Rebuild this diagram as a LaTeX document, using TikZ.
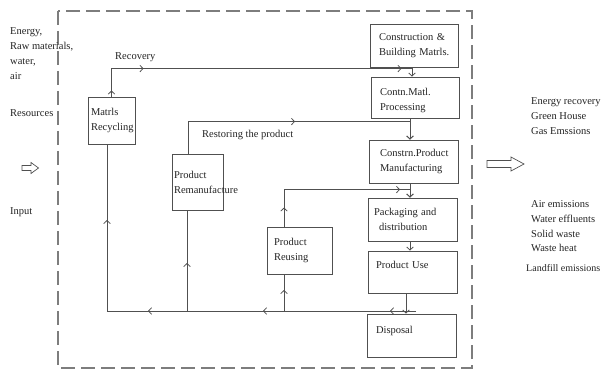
\documentclass[tikz,border=0pt]{standalone}
\usepackage{fontspec}
\setmainfont{Liberation Serif}
\usetikzlibrary{arrows.meta,decorations.markings}
\definecolor{linec}{RGB}{80,80,80}
\definecolor{dashc}{RGB}{125,125,125}
\definecolor{txt}{RGB}{35,35,35}
\newcommand{\fsz}{\fontsize{10.5}{15}\selectfont\hyphenpenalty=10000\exhyphenpenalty=10000\hbadness=10000\hfuzz=100pt}
\tikzset{
  tipb/.tip={Straight Barb[length=3pt,width=6.5pt,line width=0.8pt]},
  box/.style={draw=linec, line width=0.9pt, text=txt, align=left, inner ysep=0pt, font=\fsz},
  conn/.style={draw=linec, line width=0.9pt},
  am/.style={postaction={decorate,decoration={markings,mark=at position #1 with {\arrow{tipb}}}}},
  lbl/.style={text=txt, font=\fsz, align=left, inner sep=0pt},
  hollow/.style={draw=linec, line width=0.7pt, fill=white}
}
\begin{document}
\begin{tikzpicture}[x=1pt,y=-1pt]
\useasboundingbox (0,0) rectangle (604,371);
% outer dashed boundary
\draw[dashc, line width=1.3pt, dash pattern=on 14pt off 6pt] (58,11) rectangle (472,368);

% boxes
\node[box, inner xsep=9pt, text width=70pt, minimum height=43pt] (cbm) at (414,45.5) {\mbox{}\\[-7pt]\mbox{Construction \&}\\\mbox{Building Matrls.}};
\node[box, inner xsep=9pt, text width=70pt, minimum height=41pt] (cmp) at (415,97.5) {\mbox{}\\[-1pt]Contn.Matl.\\Processing};
\node[box, inner xsep=11pt, text width=67pt, minimum height=43pt] (cpm) at (413.5,161.5) {\mbox{Constrn.Product}\\Manufacturing};
\node[box, inner xsep=6pt, text width=77pt, minimum height=43pt] (pad) at (412.5,219.5) {\mbox{Packaging and}\\\hspace*{5pt}distribution};
\node[box, inner xsep=8pt, text width=73pt, minimum height=42pt] (use) at (412.5,272) {\mbox{Product Use}\\\mbox{}};
\node[box, inner xsep=9pt, text width=71pt, minimum height=43pt] (dis) at (411.5,335.5) {Disposal\\[-4pt]\mbox{}};
\node[box, inner xsep=3pt, text width=41pt, minimum height=47pt] (rec) at (111.5,120.5) {Matrls\\Recycling};
\node[box, inner xsep=2pt, text width=47pt, minimum height=56pt] (rem) at (197.5,182) {Product\\Remanufacture};
\node[box, inner xsep=7pt, text width=51pt, minimum height=47pt] (reu) at (299.5,250.5) {Product\\Reusing};

% connectors
\draw[conn, am=6pt, am=60pt, am=318pt, -{tipb}] (rec.north) -- ++(0,-28) -| ([xshift=-3pt]cmp.north);
\draw[conn, am=139pt, -{tipb}] ([xshift=-9.5pt]rem.north) -- ++(0,-32) -| ([xshift=-3.5pt]cpm.north);
\draw[conn, -{tipb}] ([xshift=-5pt]cmp.south) -- ([xshift=-3.5pt]cpm.north);
\draw[conn, -{tipb}] ([xshift=-3.5pt]cpm.south) -- ([xshift=-2.5pt]pad.north);
\draw[conn, am=19pt, am=153pt, -{tipb}] ([xshift=-15.5pt]reu.north) -- ++(0,-37) -| ([xshift=-2.5pt]pad.north);
\draw[conn, -{tipb}] ([xshift=-2.5pt]pad.south) -- ([xshift=-2.5pt]use.north);
\draw[conn, -{tipb}] ([xshift=-6.5pt]use.south) -- ([xshift=-5.5pt]dis.north);
\coordinate (j1) at (416,311);
\draw[conn, am=26pt, am=153pt, am=268pt, am=400pt] (j1) -| ([xshift=-4.5pt]rec.south);
\draw[conn, am=48pt] ([xshift=-10.5pt]rem.south |- j1) -- ([xshift=-10.5pt]rem.south);
\draw[conn, am=21pt] ([xshift=-15.5pt]reu.south |- j1) -- ([xshift=-15.5pt]reu.south);

% connector labels
\node[lbl, anchor=west] (lrecov) at (115,57) {Recovery};
\node[lbl, anchor=west] (lrest) at (202,135) {Restoring the product};

% input side
\node[lbl, anchor=north west] (inres) at (10,27.5) {Energy,\\Raw materials,\\water,\\air};
\node[lbl, anchor=west] (resour) at (10,113) {Resources};
\node[lbl, anchor=west] (input) at (10,212) {Input};
\draw[hollow] (22,165.5) -- (31,165.5) -- (31,162.5) -- (38.5,168) -- (31,173.5) -- (31,170.5) -- (22,170.5) -- cycle;

% output side
\draw[hollow] (487,160.5) -- (511,160.5) -- (511,157) -- (524,164) -- (511,171) -- (511,167.5) -- (487,167.5) -- cycle;
\node[lbl, anchor=north west] (out1) at (531,97.5) {Energy recovery\\Green House\\Gas Emssions};
\node[lbl, anchor=north west, font=\fontsize{10.5}{14.7}\selectfont] (out2) at (531,200.5) {Air emissions\\Water effluents\\Solid waste\\Waste heat};
\node[lbl, anchor=west, font=\fontsize{10}{12}\selectfont] (out3) at (526,268) {Landfill emissions};
\end{tikzpicture}
\end{document}
